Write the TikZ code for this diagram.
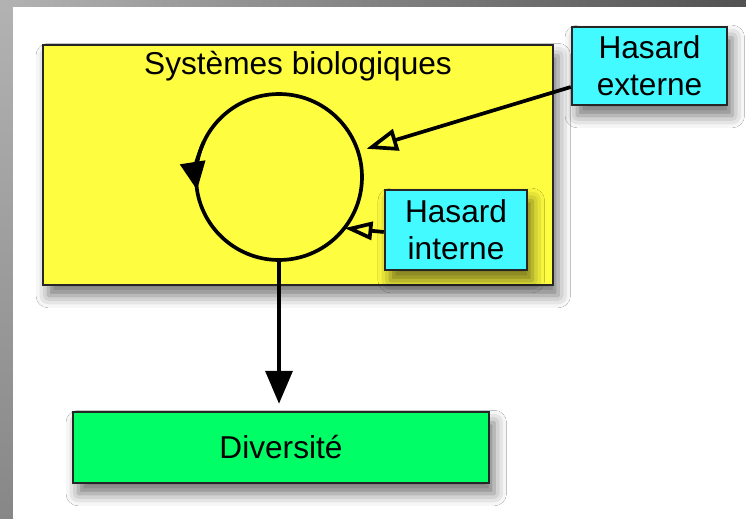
\documentclass[tikz,border=0pt]{standalone}
\usepackage{fontspec}
\setmainfont{Liberation Sans}
\usetikzlibrary{arrows.meta,positioning,shadows.blur}
\definecolor{sysyellow}{RGB}{255,253,64}
\definecolor{hasardcyan}{RGB}{66,250,255}
\definecolor{diversgreen}{RGB}{0,255,102}

\begin{document}
\begin{tikzpicture}[x=0.02cm,y=0.02cm,
		box/.style={draw=black!85,line width=1.4pt,inner sep=0pt,align=center,
			font=\fontsize{18}{21}\selectfont,
			blur shadow={shadow xshift=3pt,shadow yshift=-6pt,shadow blur radius=7pt,shadow opacity=55}},
		flow/.style={line width=2.1pt}]
		\useasboundingbox (0,0) rectangle (746,518);
		% frame
		\shade[top color=black!30,bottom color=black!47] (0,0) rectangle (13,518);
		\shade[left color=black!30,right color=black!68] (0,511) rectangle (746,518);
		\fill[white] (13,0) rectangle (746,511);
		
		% systems
		\node[box,fill=sysyellow,minimum width=10.2cm,minimum height=4.8cm] (sys) at (298,353) {};
		\node[font=\fontsize{18}{21}\selectfont,inner sep=0pt,anchor=north] (title) at ([yshift=-0.14cm]sys.north) {Systèmes biologiques};
		\node[circle,draw,line width=2.1pt,outer sep=0pt,minimum size=3.32cm] (cycle) at (279,341) {};
		\draw[flow,-{Triangle[length=0.56cm,width=0.5cm]}] (cycle.155) arc[start angle=155,end angle=189,radius=1.66cm];
		
		% hazards
		\node[box,fill=hasardcyan,minimum width=3.1cm,minimum height=1.56cm] (ext) at (649.5,452) {Hasard\\externe};
		\node[box,fill=hasardcyan,minimum width=2.84cm,minimum height=1.6cm] (int) at (456,288) {Hasard\\interne};
		\draw[flow,-{Triangle[open,length=0.62cm,width=0.44cm]},shorten >=0.18cm] ([yshift=-0.42cm]ext.west) -- (cycle.18);
		\draw[flow,-{Triangle[open,length=0.56cm,width=0.36cm]}] ([yshift=-0.04cm]int.west) -- (cycle.-38);
		
		% diversity
		\node[box,fill=diversgreen,minimum width=8.32cm,minimum height=1.42cm] (div) at (281,70.5) {Diversité};
		\draw[flow,-{Triangle[length=0.66cm,width=0.54cm]},shorten >=4pt] (cycle.south) -- (cycle.south |- div.north);
	\end{tikzpicture}
\end{document}
